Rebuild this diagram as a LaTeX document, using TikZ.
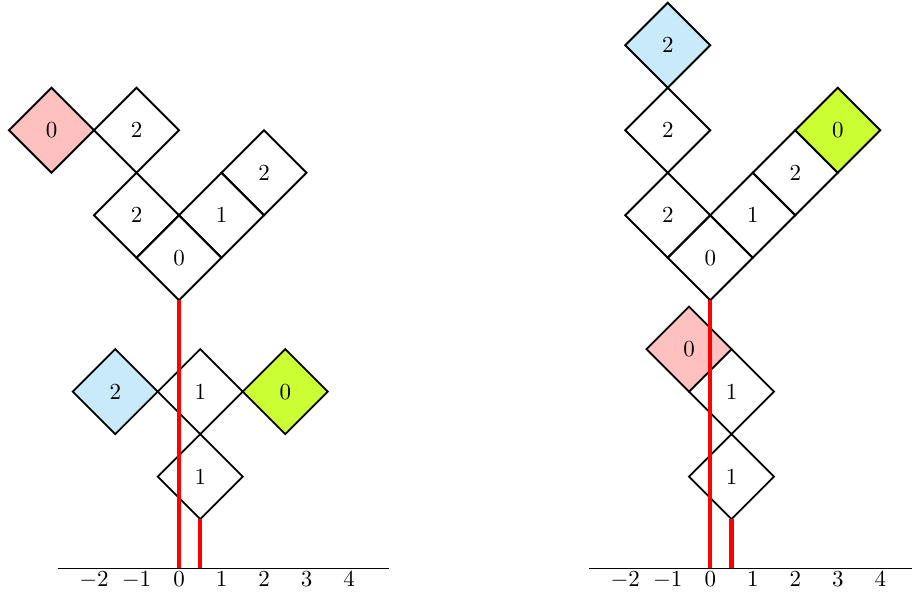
\documentclass[tikz,border=0pt]{standalone}
\usepackage{amsmath}
\usepackage{xcolor}
\usetikzlibrary{shapes.geometric}

\definecolor{cellpink}{RGB}{255,192,192}
\definecolor{cellblue}{RGB}{200,234,250}
\definecolor{cellgreen}{RGB}{204,255,51}

\tikzset{
  cell/.style={diamond, draw, thick, aspect=1, inner sep=0pt, outer sep=0pt,
    minimum width=1.3cm, minimum height=1.3cm},
  redline/.style={red, line width=1.8pt},
  tick/.style={below, inner sep=1.5pt}
}

\begin{document}
\begin{tikzpicture}[x=0.65cm,y=0.65cm]
\useasboundingbox (-4.212,-0.729) rectangle (17.247,13.365);

% left axis:
\draw (-2.85,0) coordinate(lax0) -- (4.95,0) coordinate(lax1);
\coordinate (lorig) at (0,0);
\coordinate (lhalf) at (0.5,0);
\node[tick] (lam2) at (-2,0) {$-2$};
\node[tick] (lam1) at (-1,0) {$-1$};
\node[tick] (lat0) at (0,0) {$0$};
\node[tick] (lat1) at (1,0) {$1$};
\node[tick] (lat2) at (2,0) {$2$};
\node[tick] (lat3) at (3,0) {$3$};
\node[tick] (lat4) at (4,0) {$4$};

% left, lower cells:
\node[cell] (lb1) at (0.5,2.15) {1};
\node[cell] (lt1) at (0.5,4.15) {1};
\node[cell, fill=cellblue] (lblue) at (-1.5,4.15) {2};
\node[cell, fill=cellgreen] (lgreen) at (2.5,4.15) {0};

% left, upper cells:
\node[cell] (l0) at (0,7.3) {0};
\node[cell] (l2a) at (-1,8.3) {2};
\node[cell] (l1) at (1,8.3) {1};
\node[cell] (l2b) at (2,9.3) {2};
\node[cell] (l2c) at (-1,10.3) {2};
\node[cell, fill=cellpink] (lpink) at (-3,10.3) {0};

\draw[redline] (lorig) -- (l0.south);
\draw[redline] (lhalf) -- (lb1.south);


% right axis:
\draw (9.65,0) coordinate(rax0) -- (17.45,0) coordinate(rax1);
\coordinate (rorig) at (12.5,0);
\coordinate (rhalf) at (13,0);
\node[tick] (ram2) at (10.5,0) {$-2$};
\node[tick] (ram1) at (11.5,0) {$-1$};
\node[tick] (rat0) at (12.5,0) {$0$};
\node[tick] (rat1) at (13.5,0) {$1$};
\node[tick] (rat2) at (14.5,0) {$2$};
\node[tick] (rat3) at (15.5,0) {$3$};
\node[tick] (rat4) at (16.5,0) {$4$};

% right, lower cells:
\node[cell] (rb1) at (13,2.15) {1};
\node[cell] (rt1) at (13,4.15) {1};
\node[cell, fill=cellpink] (rpink) at (12,5.15) {0};

% right, upper cells:
\node[cell] (r0) at (12.5,7.3) {0};
\node[cell] (r2a) at (11.5,8.3) {2};
\node[cell] (r1) at (13.5,8.3) {1};
\node[cell] (r2b) at (14.5,9.3) {2};
\node[cell, fill=cellgreen] (rgreen) at (15.5,10.3) {0};
\node[cell] (r2c) at (11.5,10.3) {2};
\node[cell, fill=cellblue] (rblue) at (11.5,12.3) {2};

\draw[redline] (rorig) -- (r0.south);
\draw[redline] (rhalf) -- (rb1.south);

\end{tikzpicture}
\end{document}
